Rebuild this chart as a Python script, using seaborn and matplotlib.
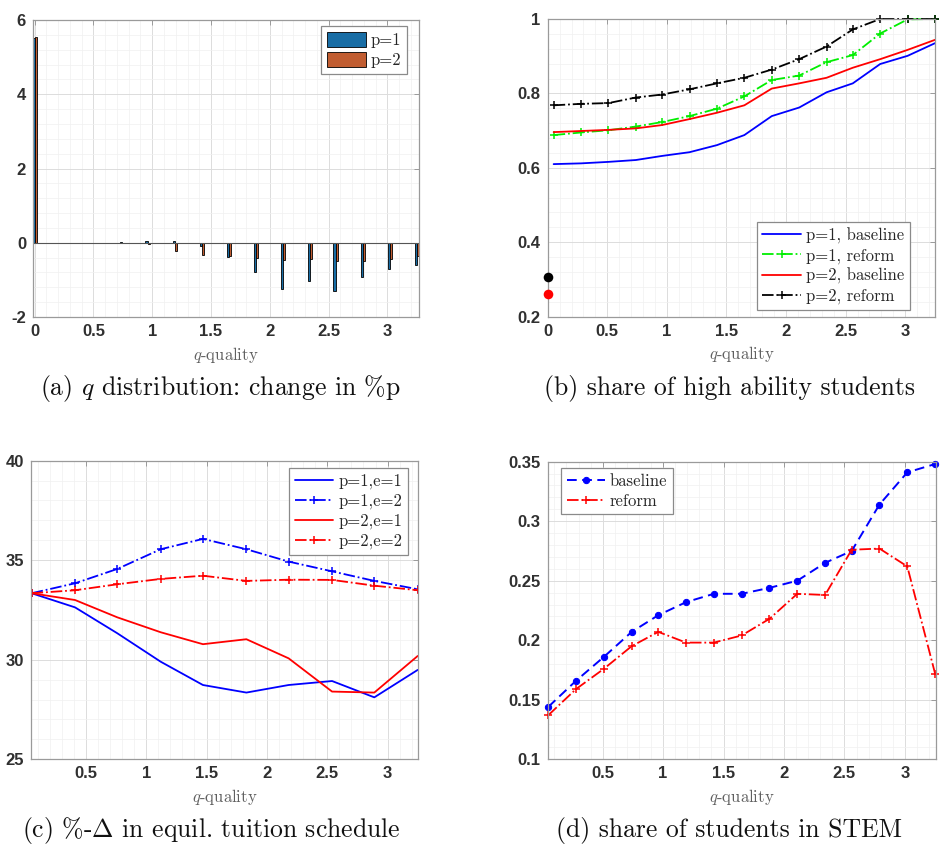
import numpy as np
import pandas as pd
import matplotlib
matplotlib.use("Agg")
import matplotlib.pyplot as plt
from matplotlib.ticker import AutoMinorLocator, FuncFormatter, MultipleLocator
import seaborn as sns

# ---------------- data ----------------
# college quality grid used by the line panels
q_grid = [0.05, 0.28, 0.51, 0.74, 0.96, 1.19, 1.42, 1.65, 1.88, 2.11, 2.34, 2.56, 2.79, 3.02, 3.25]
# bar positions in panel (a): outside option at q=0 followed by the colleges
q_bars = [0.0, 0.28, 0.51, 0.74, 0.96, 1.19, 1.42, 1.65, 1.88, 2.11, 2.34, 2.56, 2.79, 3.02, 3.25]

# (a) change in % of students by quality
dist_p1 = [5.52, -0.01, -0.01, 0.02, 0.06, 0.04, -0.08, -0.38, -0.80, -1.25, -1.03, -1.31, -0.93, -0.71, -0.61]
dist_p2 = [5.55, -0.01, -0.01, -0.02, -0.03, -0.21, -0.32, -0.37, -0.42, -0.46, -0.45, -0.50, -0.48, -0.43, -0.37]

# (b) share of high ability students
hi_p1_base = [0.610, 0.612, 0.616, 0.621, 0.632, 0.642, 0.661, 0.688, 0.739, 0.762, 0.803, 0.827, 0.879, 0.901, 0.935]
hi_p1_reform = [0.688, 0.695, 0.701, 0.711, 0.723, 0.739, 0.759, 0.792, 0.836, 0.848, 0.884, 0.903, 0.961, 0.999, 1.000]
hi_p2_base = [0.696, 0.699, 0.702, 0.706, 0.715, 0.731, 0.748, 0.768, 0.813, 0.827, 0.842, 0.869, 0.892, 0.917, 0.944]
hi_p2_reform = [0.768, 0.772, 0.774, 0.789, 0.797, 0.811, 0.827, 0.842, 0.864, 0.892, 0.926, 0.972, 1.000, 1.000, 1.000]
hi_outside_reform = 0.307
hi_outside_base = 0.260

# (c) % change in equilibrium tuition schedule
q_tuition = [0.05, 0.41, 0.76, 1.12, 1.47, 1.83, 2.18, 2.54, 2.89, 3.25]
tui_p1_e1 = [33.34, 32.63, 31.33, 29.90, 28.73, 28.35, 28.73, 28.93, 28.11, 29.49]
tui_p1_e2 = [33.34, 33.84, 34.56, 35.55, 36.07, 35.55, 34.93, 34.44, 33.96, 33.54]
tui_p2_e1 = [33.34, 33.00, 32.13, 31.38, 30.78, 31.03, 30.07, 28.40, 28.35, 30.19]
tui_p2_e2 = [33.34, 33.49, 33.79, 34.06, 34.22, 33.96, 34.02, 34.01, 33.72, 33.49]

# (d) share of students in STEM
stem_base = [0.144, 0.166, 0.186, 0.207, 0.221, 0.232, 0.239, 0.239, 0.244, 0.250, 0.265, 0.275, 0.314, 0.341, 0.348]
stem_reform = [0.137, 0.159, 0.176, 0.195, 0.207, 0.198, 0.198, 0.204, 0.218, 0.239, 0.238, 0.276, 0.277, 0.262, 0.172]

# ---------------- style ----------------
sns.set_style("white")
plt.rcParams["font.family"] = ["Liberation Sans", "DejaVu Sans"]
plt.rcParams["mathtext.fontset"] = "cm"

SERIF = "cmr10"
TICK_COLOR = "#303030"
SPINE_COLOR = "#9a9a9a"
BLUE, GREEN, RED, BLACK = "#0000ff", "#00ee00", "#ff0000", "#000000"
M_BLUE, M_ORANGE = "#0072bd", "#d95319"

fig = plt.figure(figsize=(9.42, 8.44), dpi=100)
ax_a = fig.add_axes([0.0350, 0.6244, 0.4098, 0.3519])
ax_b = fig.add_axes([0.5814, 0.6248, 0.4112, 0.3527])
ax_c = fig.add_axes([0.0329, 0.1004, 0.4112, 0.3538])
ax_d = fig.add_axes([0.5814, 0.1004, 0.4119, 0.3526])

fmt = FuncFormatter(lambda v, _: f"{v:g}")


def dress(ax, xlim, ylim, xstep, ystep):
    ax.set_xlim(*xlim)
    ax.set_ylim(*ylim)
    ax.xaxis.set_major_locator(MultipleLocator(xstep))
    ax.yaxis.set_major_locator(MultipleLocator(ystep))
    ax.xaxis.set_major_formatter(fmt)
    ax.yaxis.set_major_formatter(fmt)
    ax.xaxis.set_minor_locator(AutoMinorLocator(5))
    ax.yaxis.set_minor_locator(AutoMinorLocator(5))
    ax.grid(True, which="major", color="#dcdcdc", lw=0.7, zorder=0)
    ax.grid(True, which="minor", color="#f0f0f0", lw=0.5, zorder=0)
    ax.set_axisbelow(True)
    for s in ax.spines.values():
        s.set_visible(True)
        s.set_color(SPINE_COLOR)
        s.set_linewidth(0.9)
    ax.tick_params(which="major", direction="in", length=3.5, width=0.7,
                   color=SPINE_COLOR, top=True, right=True,
                   labelsize=12, labelcolor=TICK_COLOR, pad=5)
    ax.tick_params(which="minor", length=0)
    for lbl in ax.get_xticklabels() + ax.get_yticklabels():
        lbl.set_fontweight("bold")
    ax.set_xlabel("$q$-quality", family=SERIF, fontsize=12, color="#606060", labelpad=4)
    ax.set_ylabel("")


def legend(ax, loc, anchor, **kw):
    leg = ax.legend(loc=loc, bbox_to_anchor=anchor, borderaxespad=0,
                    prop={"family": SERIF, "size": 12}, frameon=True,
                    fancybox=False, framealpha=1, edgecolor="#8a8a8a",
                    labelspacing=0.25, handletextpad=0.3, borderpad=0.35, **kw)
    leg.get_frame().set_linewidth(0.9)
    return leg


# ---------------- (a) distribution change ----------------
df_a = pd.DataFrame({
    "q": q_bars * 2,
    "change": dist_p1 + dist_p2,
    "p": ["p=1"] * len(q_bars) + ["p=2"] * len(q_bars),
})
sns.barplot(data=df_a, x="q", y="change", hue="p", native_scale=True,
            width=0.16, palette=[M_BLUE, M_ORANGE], edgecolor="black",
            linewidth=0.6, errorbar=None, ax=ax_a)
ax_a.axhline(0, color="#555555", lw=0.8, zorder=1)
dress(ax_a, (-0.015, 3.27), (-2, 6), 0.5, 2)
h, l = ax_a.get_legend_handles_labels()
legend(ax_a, "upper right", (0.969, 0.98), handles=h, labels=l,
       handlelength=2.3, handleheight=1.0)

# ---------------- (b) high ability share ----------------
line_kw = dict(lw=1.3, markersize=6, markeredgewidth=1.1)
sns.lineplot(x=q_grid, y=hi_p1_base, ax=ax_b, color=BLUE, linestyle="-",
             label="p=1, baseline", clip_on=False, **line_kw)
sns.lineplot(x=q_grid, y=hi_p1_reform, ax=ax_b, color=GREEN, linestyle="-.",
             marker="+", markeredgecolor=GREEN, label="p=1, reform",
             clip_on=False, **line_kw)
sns.lineplot(x=q_grid, y=hi_p2_base, ax=ax_b, color=RED, linestyle="-",
             label="p=2, baseline", clip_on=False, **line_kw)
sns.lineplot(x=q_grid, y=hi_p2_reform, ax=ax_b, color=BLACK, linestyle="-.",
             marker="+", markeredgecolor=BLACK, label="p=2, reform",
             clip_on=False, **line_kw)
sns.scatterplot(x=[0.0], y=[hi_outside_reform], ax=ax_b, color=BLACK, s=48,
                linewidth=0, clip_on=False, zorder=5)
sns.scatterplot(x=[0.0], y=[hi_outside_base], ax=ax_b, color=RED, s=48,
                linewidth=0, clip_on=False, zorder=5)
dress(ax_b, (0, 3.25), (0.2, 1.0), 0.5, 0.2)
h, l = ax_b.get_legend_handles_labels()
legend(ax_b, "lower right", (0.935, 0.0225), handles=h[:4], labels=l[:4],
       handlelength=2.3)

# ---------------- (c) tuition schedule ----------------
sns.lineplot(x=q_tuition, y=tui_p1_e1, ax=ax_c, color=BLUE, linestyle="-",
             label="p=1,e=1", **line_kw)
sns.lineplot(x=q_tuition, y=tui_p1_e2, ax=ax_c, color=BLUE, linestyle="-.",
             marker="+", markeredgecolor=BLUE, label="p=1,e=2", **line_kw)
sns.lineplot(x=q_tuition, y=tui_p2_e1, ax=ax_c, color=RED, linestyle="-",
             label="p=2,e=1", **line_kw)
sns.lineplot(x=q_tuition, y=tui_p2_e2, ax=ax_c, color=RED, linestyle="-.",
             marker="+", markeredgecolor=RED, label="p=2,e=2", **line_kw)
dress(ax_c, (0.045, 3.255), (25, 40), 0.5, 5)
h, l = ax_c.get_legend_handles_labels()
legend(ax_c, "upper right", (0.973, 0.976), handles=h, labels=l,
       handlelength=2.3)

# ---------------- (d) STEM share ----------------
sns.lineplot(x=q_grid, y=stem_base, ax=ax_d, color=BLUE, linestyle=(0, (5, 2.8)),
             marker="o", markersize=4.5, markeredgecolor=BLUE,
             markerfacecolor=BLUE, lw=1.4, label="baseline", clip_on=False)
sns.lineplot(x=q_grid, y=stem_reform, ax=ax_d, color=RED, linestyle="-.",
             marker="+", markeredgecolor=RED, label="reform", clip_on=False,
             **line_kw)
dress(ax_d, (0.045, 3.255), (0.1, 0.35), 0.5, 0.05)
h, l = ax_d.get_legend_handles_labels()
legend(ax_d, "upper left", (0.034, 0.979), handles=h, labels=l,
       handlelength=2.3)

# ---------------- captions ----------------
cap_kw = dict(family=SERIF, fontsize=18.5, ha="center", va="center", color="#111111")
fig.text(220 / 942, 1 - 389 / 844, "(a) $q$ distribution: change in %p", **cap_kw)
fig.text(729 / 942, 1 - 389 / 844, "(b) share of high ability students", **cap_kw)
fig.text(211 / 942, 1 - 830 / 844, r"(c) %-$\Delta$ in equil. tuition schedule", **cap_kw)
fig.text(729 / 942, 1 - 830 / 844, "(d) share of students in STEM", **cap_kw)

fig.savefig("out.png", dpi=100, facecolor="white")
